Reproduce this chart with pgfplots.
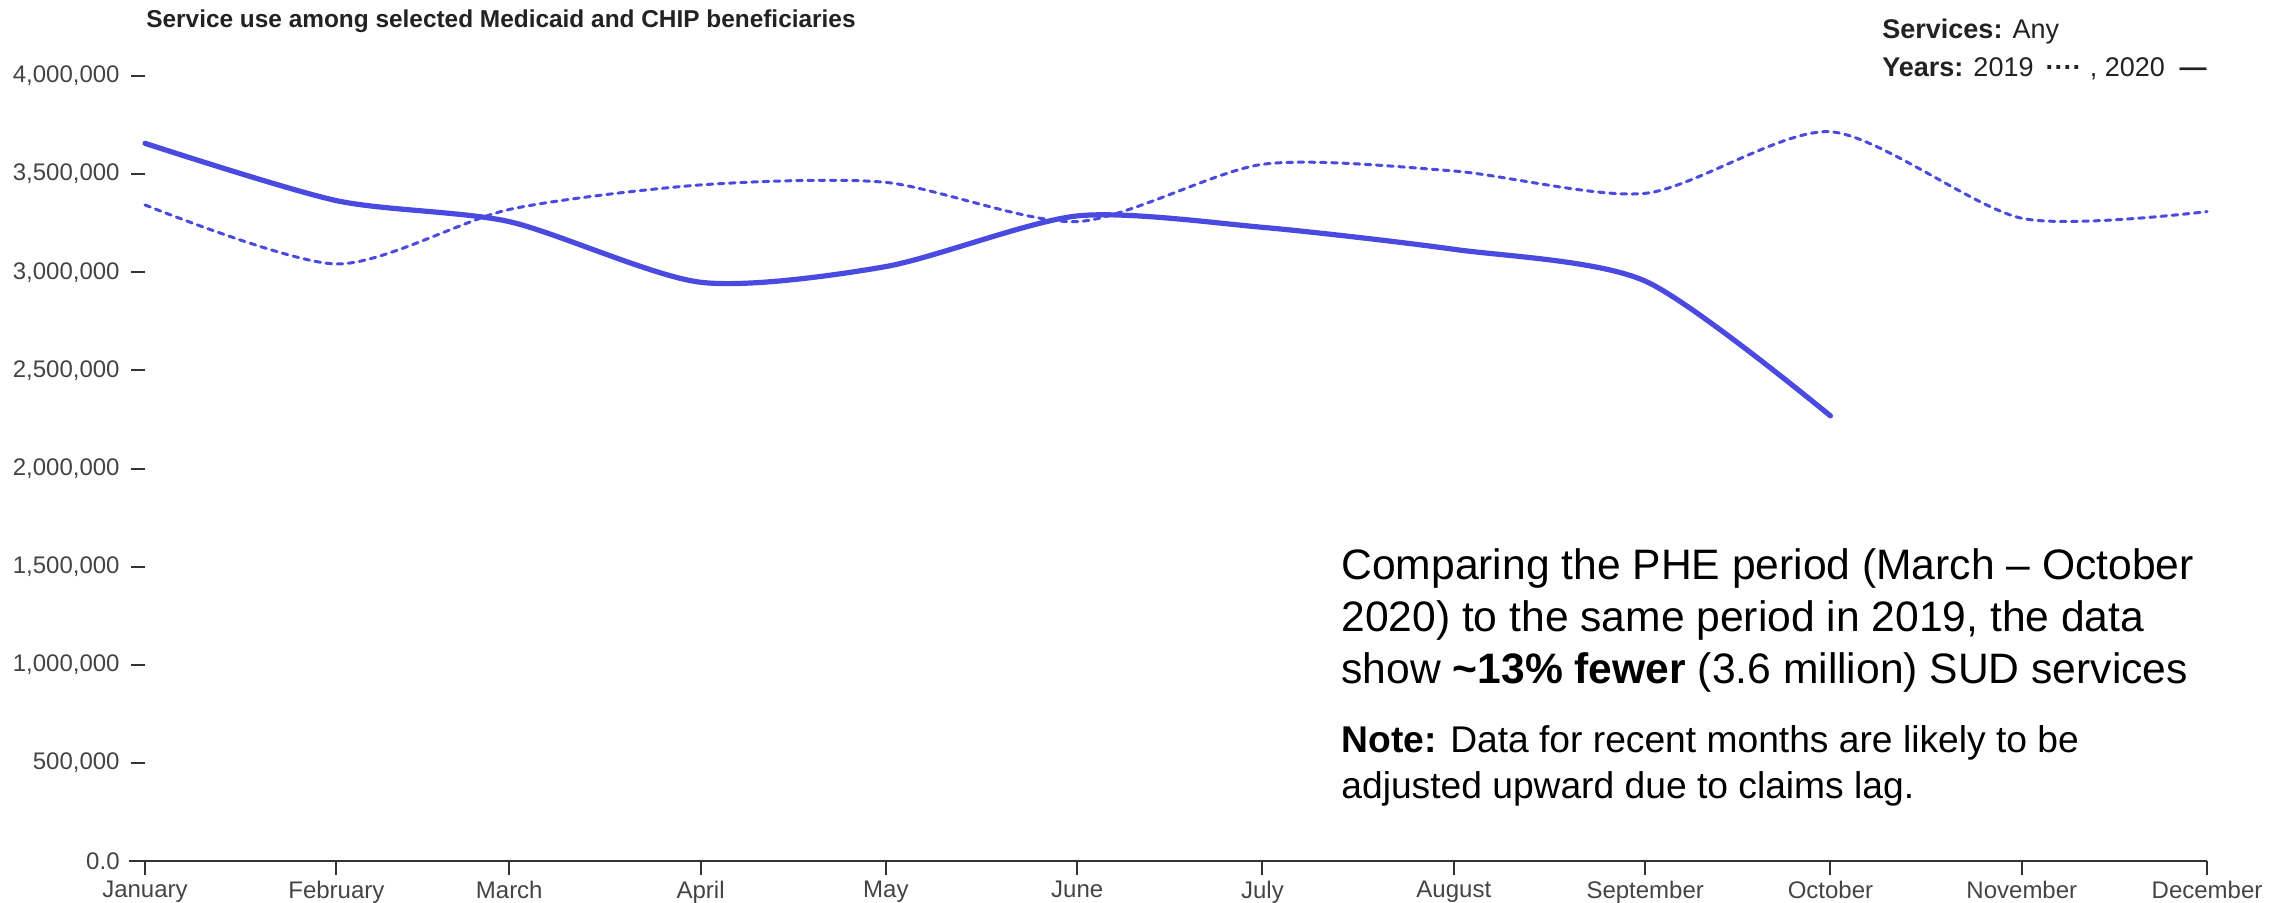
\documentclass[border=0pt]{standalone}
\usepackage{fontspec}
\setmainfont{Liberation Sans}
\usepackage{pgfplots}
\pgfplotsset{compat=1.18}
\usepackage{pgfplotstable}

\definecolor{lineblue}{RGB}{74,74,224}
\definecolor{axisgray}{RGB}{51,51,51}
\definecolor{labelgray}{RGB}{68,68,68}
\definecolor{titlegray}{RGB}{34,34,34}

% day of year (1st of each month) and monthly service counts
\pgfplotstableread{
day  y2019
0    3343000
31   3042000
59   3320000
90   3445000
120  3458000
151  3258000
181  3550000
212  3516000
243  3402000
273  3716000
304  3275000
334  3309000
}\yearA

\pgfplotstableread{
day  y2020
0    3657000
31   3365000
59   3258000
90   2949000
120  3029000
151  3287000
181  3229000
212  3117000
243  2955000
273  2268000
}\yearB

\begin{document}
\begin{tikzpicture}
\path[use as bounding box] (0,0) rectangle (1147.5pt,451pt);

\begin{axis}[
  at={(72.5pt,20.5pt)}, anchor=south west,
  scale only axis, width=1031pt, height=392.5pt,
  xmin=0, xmax=334, ymin=0, ymax=4000000,
  clip=false,
  axis x line*=bottom, axis y line*=left,
  axis line style={draw=none},
  tick align=outside,
  major tick length=7pt,
  tick style={line width=1pt, color=axisgray},
  xtick={0,31,59,90,120,151,181,212,243,273,304,334},
  xticklabels={January,February,March,April,May,June,July,August,September,October,November,December},
  ytick={0,500000,1000000,1500000,2000000,2500000,3000000,3500000,4000000},
  yticklabels={{0.0},{500,000},{1,000,000},{1,500,000},{2,000,000},{2,500,000},{3,000,000},{3,500,000},{4,000,000}},
  ticklabel style={font=\fontsize{12}{14}\selectfont, text=labelgray},
  xticklabel style={inner sep=0pt, yshift=-3pt},
  yticklabel style={inner sep=0pt, xshift=-5.5pt},
  scaled y ticks=false,
]
\draw[axisgray, line width=1pt] ([xshift=-8pt]axis cs:0,0) -- (axis cs:334,0);

\addplot[lineblue, line width=1.5pt, smooth, tension=0.45,
  line cap=round, dash pattern=on 2.8pt off 2.8pt] table[x=day, y=y2019] {\yearA};
\addplot[lineblue, line width=2.6pt, smooth, tension=0.45, line cap=round]
  table[x=day, y=y2020] {\yearB};
\end{axis}

% title
\node[anchor=base west, inner sep=0pt, text=titlegray, font=\bfseries\fontsize{12.2}{14}\selectfont]
  at (73pt,437pt) {Service use among selected Medicaid and CHIP beneficiaries};

% legend
\node[anchor=base west, inner sep=0pt, text=titlegray, font=\fontsize{13.5}{16}\selectfont]
  at (941pt,431.5pt) {\textbf{Services:} Any};
\node[anchor=base west, inner sep=0pt, text=titlegray, font=\fontsize{13.5}{16}\selectfont]
  at (941pt,413pt) {\textbf{Years:} 2019\hspace{0.45em}\textbf{····}\hspace{0.3em}, 2020\hspace{0.55em}\textbf{—}};

% annotation
\node[anchor=base west, inner sep=0pt, font=\fontsize{21.3}{25}\selectfont]
  at (670.5pt,161.5pt) {Comparing the PHE period (March – October};
\node[anchor=base west, inner sep=0pt, font=\fontsize{21.3}{25}\selectfont]
  at (670.5pt,135.5pt) {2020) to the same period in 2019, the data};
\node[anchor=base west, inner sep=0pt, font=\fontsize{21.3}{25}\selectfont]
  at (670.5pt,109.5pt) {show \textbf{\textasciitilde13\% fewer} (3.6 million) SUD services};
\node[anchor=base west, inner sep=0pt, font=\fontsize{18.6}{22}\selectfont]
  at (670.5pt,75pt) {\textbf{Note:} Data for recent months are likely to be};
\node[anchor=base west, inner sep=0pt, font=\fontsize{18.6}{22}\selectfont]
  at (670.5pt,52pt) {adjusted upward due to claims lag.};
\end{tikzpicture}
\end{document}
